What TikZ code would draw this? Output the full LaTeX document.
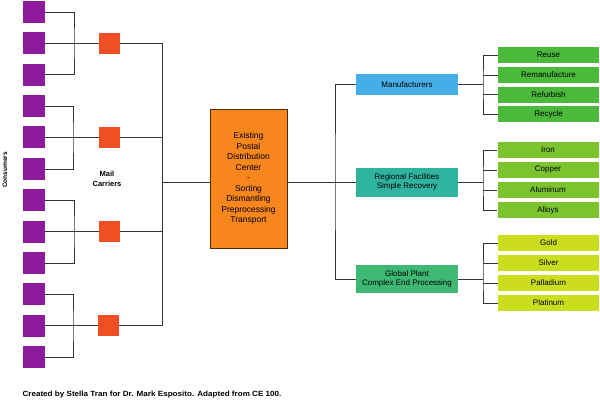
\documentclass[tikz,border=0pt]{standalone}
\usepackage{fontspec}
\setmainfont{Liberation Sans}
\usepackage{tikz}
\usetikzlibrary{
    calc,
    positioning
}
\definecolor{consumerpurple}{HTML}{8E1B9C}
\definecolor{carrierred}{HTML}{F04E23}
\definecolor{huborange}{HTML}{F7861D}
\definecolor{hubedge}{HTML}{4A2A00}
\definecolor{manblue}{HTML}{45AEE6}
\definecolor{regteal}{HTML}{2FB4A0}
\definecolor{globgreen}{HTML}{3DB974}
\definecolor{usegreen}{HTML}{4BBA3B}
\definecolor{metalgreen}{HTML}{7CC42F}
\definecolor{preciousyellow}{HTML}{CCDD1E}
\tikzset{
    wire/.style={draw=black!80, line width=0.6pt},
    consumer/.style={fill=consumerpurple, minimum size=22pt, inner sep=0pt},
    carrier/.style={fill=carrierred, minimum size=21pt, inner sep=0pt},
    midbox/.style={minimum width=102pt, inner sep=0pt, align=center,
        font=\fontsize{8}{9.5}\selectfont},
    leaf/.style={minimum width=101pt, minimum height=16pt, inner sep=0pt,
        font=\fontsize{8}{9.5}\selectfont},
    smalllabel/.style={font=\fontsize{6.5}{8}\selectfont\bfseries, align=center, inner sep=0pt}
}

\begin{document}
\begin{tikzpicture}[x=1pt, y=-1pt]
        \fill[white] (0,0) rectangle (600,402);
        \useasboundingbox (0,0) rectangle (600,402);

        % consumers
        \draw (34,12) node[consumer](c1){};
        \draw (34,43.4) node[consumer](c2){};
        \draw (34,74.7) node[consumer](c3){};
        \draw (34,106.1) node[consumer](c4){};
        \draw (34,137.4) node[consumer](c5){};
        \draw (34,168.8) node[consumer](c6){};
        \draw (34,200.2) node[consumer](c7){};
        \draw (34,231.5) node[consumer](c8){};
        \draw (34,262.9) node[consumer](c9){};
        \draw (34,294.2) node[consumer](c10){};
        \draw (34,325.6) node[consumer](c11){};
        \draw (34,357) node[consumer](c12){};
        \draw (5,170) node[smalllabel, rotate=90](consumers){Consumers};

        % mail carriers
        \draw (109.5,43.4) node[carrier](m1){};
        \draw (109.5,137.4) node[carrier](m2){};
        \draw (109.5,231.5) node[carrier](m3){};
        \draw (108.5,325.6) node[carrier](m4){};
        \draw (107,179) node[smalllabel, font=\fontsize{7.5}{10}\selectfont\bfseries](carriers){Mail\\Carriers};

        \coordinate (j1) at (74,43.4);
        \coordinate (j2) at (73,137.4);
        \coordinate (j3) at (74,231.5);
        \coordinate (j4) at (73,325.6);
        \draw[wire] (c1.east) -| (j1) |- (c3.east);
        \draw[wire] (c4.east) -| (j2) |- (c6.east);
        \draw[wire] (c7.east) -| (j3) |- (c9.east);
        \draw[wire] (c10.east) -| (j4) |- (c12.east);
        \draw[wire] (c2.east) -- (m1.west);
        \draw[wire] (c5.east) -- (m2.west);
        \draw[wire] (c8.east) -- (m3.west);
        \draw[wire] (c11.east) -- (m4.west);

        % distribution center
        \draw (248.5,178.5) node[draw=hubedge, line width=0.6pt, fill=huborange,
            minimum width=77pt, minimum height=139pt, inner sep=0pt, align=center,
            font=\fontsize{8.5}{10.5}\selectfont](hub){Existing\\Postal\\Distribution\\Center\\-\\Sorting\\Dismantling\\Preprocessing\\Transport};

        \coordinate (t) at (162,182);
        \draw[wire] (m1.east) -| (t);
        \draw[wire] (m4.east) -| (t);
        \draw[wire] (m2.east) -- (m2.east -| t);
        \draw[wire] (m3.east) -- (m3.east -| t);
        \draw[wire] (t) -- (t -| hub.west);

        % processors
        \draw (407,84.5) node[midbox, fill=manblue, minimum height=21pt](man){Manufacturers};
        \draw (407,182) node[midbox, fill=regteal, minimum height=29pt](reg){Regional Facilities\\Simple Recovery};
        \draw (407,279) node[midbox, fill=globgreen, minimum height=28pt](glob){Global Plant\\Complex End Processing};

        \coordinate (r) at (335,182);
        \draw[wire] (hub.east |- r) -- (reg.west);
        \draw[wire] (man.west) -| (r) |- (glob.west);

        % end uses
        \draw (548.5,55) node[leaf, fill=usegreen](reuse){Reuse};
        \draw (548.5,75) node[leaf, fill=usegreen](reman){Remanufacture};
        \draw (548.5,94.5) node[leaf, fill=usegreen](refurb){Refurbish};
        \draw (548.5,114) node[leaf, fill=usegreen](recycle){Recycle};

        \draw (548,150) node[leaf, fill=metalgreen](iron){Iron};
        \draw (548,170) node[leaf, fill=metalgreen](copper){Copper};
        \draw (548,190) node[leaf, fill=metalgreen](alum){Aluminum};
        \draw (548,210) node[leaf, fill=metalgreen](alloys){Alloys};

        \draw (548.5,243) node[leaf, fill=preciousyellow](gold){Gold};
        \draw (548.5,263) node[leaf, fill=preciousyellow](silver){Silver};
        \draw (548.5,283) node[leaf, fill=preciousyellow](pall){Palladium};
        \draw (548.5,303) node[leaf, fill=preciousyellow](plat){Platinum};

        \coordinate (jm) at (483,84.5);
        \coordinate (jr) at (483,182);
        \coordinate (jg) at (483,279);
        \draw[wire] (man.east) -- (jm);
        \draw[wire] (reuse.west) -| (jm) |- (recycle.west);
        \draw[wire] (reman.west) -- (reman.west -| jm);
        \draw[wire] (refurb.west) -- (refurb.west -| jm);

        \draw[wire] (reg.east) -- (jr);
        \draw[wire] (iron.west) -| (jr) |- (alloys.west);
        \draw[wire] (copper.west) -- (copper.west -| jr);
        \draw[wire] (alum.west) -- (alum.west -| jr);

        \draw[wire] (glob.east) -- (jg);
        \draw[wire] (gold.west) -| (jg) |- (plat.west);
        \draw[wire] (silver.west) -- (silver.west -| jg);
        \draw[wire] (pall.west) -- (pall.west -| jg);

        % credit line
        \draw (152,395) node[smalllabel, font=\fontsize{7.5}{9}\selectfont\bfseries, xscale=1.08](credit){Created by Stella Tran for Dr. Mark Esposito. Adapted from CE 100.};
    \end{tikzpicture}
\end{document}
